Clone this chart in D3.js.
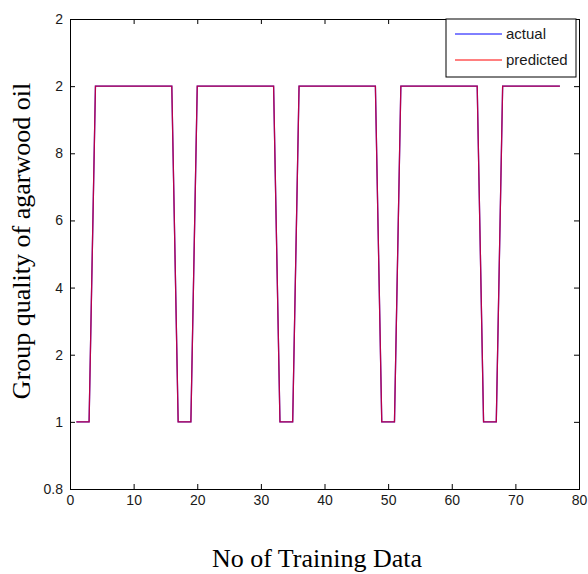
<!DOCTYPE html>
<html>
<head>
<meta charset="utf-8">
<title>Group quality of agarwood oil</title>
<script src="https://d3js.org/d3.v7.min.js"></script>
<style>
  body { margin: 0; background: #fff; }
  svg { display: block; }
  .tick text { font-family: "Liberation Sans", Arial, sans-serif; font-size: 14px; fill: #1a1a1a; }
  .axis path, .axis line { stroke: #000; }
</style>
</head>
<body>
<svg id="chart" width="588" height="574"></svg>
<script>
// sample values (sample no. 1..77)
const actual = [1,1,1,2,2,2,2,2,2,2,2,2,2,2,2,2,
  1,1,1,2,2,2,2,2,2,2,2,2,2,2,2,2,
  1,1,1,2,2,2,2,2,2,2,2,2,2,2,2,2,
  1,1,1,2,2,2,2,2,2,2,2,2,2,2,2,2,
  1,1,1,2,2,2,2,2,2,2,2,2,2];
const predicted = [1,1,1,2,2,2,2,2,2,2,2,2,2,2,2,2,
  1,1,1,2,2,2,2,2,2,2,2,2,2,2,2,2,
  1,1,1,2,2,2,2,2,2,2,2,2,2,2,2,2,
  1,1,1,2,2,2,2,2,2,2,2,2,2,2,2,2,
  1,1,1,2,2,2,2,2,2,2,2,2,2];

const xTicks = [0,10,20,30,40,50,60,70,80];
const yTicks = [0.8,1,1.2,1.4,1.6,1.8,2,2.2];
// labels as they appear in the picture (clipped on the left)
const yTickLabels = ["0.8","1","2","4","6","8","2","2"];
const legendNames = ["actual","predicted"];
const legendColors = ["#0000ff","#ff0000"];

const svg = d3.select('#chart');
const margin = {top:19, right:9, bottom:85, left:70};
const width = +svg.attr('width');
const height = +svg.attr('height');
const innerwidth = width - margin.left - margin.right;
const innerheight = height - margin.top - margin.bottom;

const xscale = d3.scaleLinear().domain([0,80]).range([0,innerwidth]);
const yscale = d3.scaleLinear().domain([0.8,2.2]).range([innerheight,0]);

const g = svg.append('g').attr('transform',`translate(${margin.left},${margin.top})`);

// axes, matlab style: ticks inward, box on
const yaxis = d3.axisLeft(yscale).tickValues(yTicks).tickSize(-5).tickPadding(7)
  .tickFormat((d,i) => yTickLabels[i]);
const xaxis = d3.axisBottom(xscale).tickValues(xTicks).tickSize(-5).tickPadding(6)
  .tickFormat(d3.format('d'));

g.append('g').attr('class','axis').call(yaxis);
g.append('g').attr('class','axis').attr('transform',`translate(0,${innerheight})`).call(xaxis);
g.append('g').attr('class','axis').attr('transform',`translate(${innerwidth},0)`)
  .call(d3.axisRight(yscale).tickValues(yTicks).tickSize(-5).tickFormat(''));
g.append('g').attr('class','axis')
  .call(d3.axisTop(xscale).tickValues(xTicks).tickSize(-5).tickFormat(''));
g.selectAll('.axis .domain').attr('stroke-width',1);

const line = d3.line()
  .x((d,i) => xscale(i+1))
  .y(d => yscale(d));

g.append('path').datum(actual)
  .attr('d',line).attr('fill','none')
  .attr('stroke',legendColors[0]).attr('stroke-width',1.3);
g.append('path').datum(predicted)
  .attr('d',line).attr('fill','none')
  .attr('stroke',legendColors[1]).attr('stroke-width',1.3).attr('stroke-opacity',0.72);

// legend
const legend = svg.append('g').attr('transform','translate(446,19)');
legend.append('rect').attr('width',130).attr('height',58)
  .attr('fill','#fff').attr('stroke','#000');
legendNames.forEach((name,i) => {
  const ly = 15 + i*26;
  legend.append('line').attr('x1',9).attr('x2',56).attr('y1',ly).attr('y2',ly)
    .attr('stroke',legendColors[i]).attr('stroke-width',1);
  legend.append('text').attr('x',60).attr('y',ly+5)
    .style('font-family','"Liberation Sans", Arial, sans-serif')
    .style('font-size','15px').attr('fill','#1a1a1a')
    .text(name);
});

// axis titles
svg.append('text')
  .attr('transform','translate(30,241) rotate(-90)')
  .attr('text-anchor','middle')
  .style('font-family','"Liberation Serif", "Times New Roman", serif')
  .style('font-size','26px')
  .text('Group quality of agarwood oil');

svg.append('text')
  .attr('x',317).attr('y',567)
  .attr('text-anchor','middle')
  .style('font-family','"Liberation Serif", "Times New Roman", serif')
  .style('font-size','26px')
  .text('No of Training Data');
</script>
</body>
</html>
